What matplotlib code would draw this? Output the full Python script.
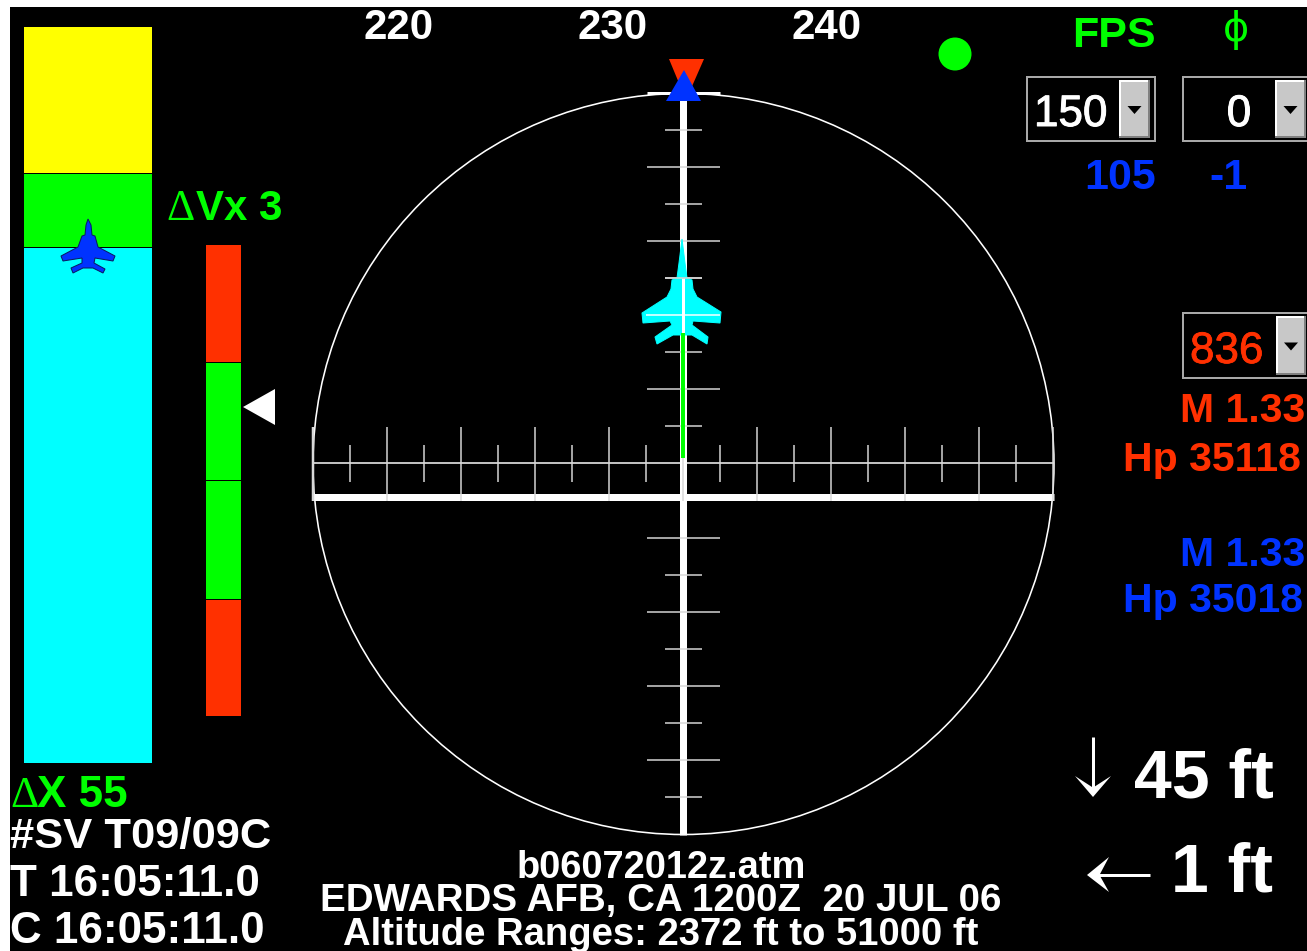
import matplotlib
matplotlib.use('Agg')
from matplotlib import pyplot as plt
from matplotlib import patheffects as pe
from matplotlib.patches import Circle, Polygon, Rectangle

W, H = 1307, 951
SANS = 'Liberation Sans'
SERIF = 'Liberation Serif'

GREEN = '#00ff00'
CYAN = '#00ffff'
YELLOW = '#ffff00'
RED = '#ff3000'
BLUE = '#0033ff'
WHITE = '#ffffff'
GRAY = '#d8d8d8'

# left energy bar, top to bottom edges in px
energy_edges = [26, 173, 247, 763]
energy_colors = [YELLOW, GREEN, CYAN]

# delta Vx bar
dvx_edges = [244, 362, 480, 599, 716]
dvx_colors = [RED, GREEN, GREEN, RED]
dvx_pointer = 407

heading_labels = [220, 230, 240]
heading_pos = [399, 613, 827]

# crosshair scales
h_major = [313, 387, 461, 535, 609, 683, 757, 831, 905, 979, 1053]
h_minor = [350, 424, 498, 572, 646, 720, 794, 868, 942, 1016]
v_long = [167, 241, 315, 389, 538, 612, 686, 760]
v_short = [130, 204, 278, 352, 426, 575, 649, 723, 797]

jet_cyan = [(682, 239), (685, 263), (687, 278), (692, 280), (693, 289), (697, 297),
            (721, 312), (720, 323), (693, 321), (692, 325), (708, 337), (707, 344),
            (692, 335), (673, 335), (657, 344), (655, 337), (672, 325), (670, 321),
            (643, 323), (642, 313), (667, 297), (671, 289), (672, 280), (677, 278),
            (679, 263)]
jet_blue = [(88, 219), (91, 225), (92, 235), (95, 236), (98, 247), (115, 256),
            (113, 261), (95, 258), (94, 263), (105, 269), (103, 273), (93, 268),
            (83, 268), (73, 273), (71, 268), (82, 263), (82, 258), (63, 261),
            (61, 256), (78, 247), (82, 236), (85, 235), (86, 225)]

fig = plt.figure(figsize=(W / 100, H / 100), dpi=100, facecolor='white')
ax = fig.add_axes([0, 0, 1, 1])
ax.set_xlim(0, W)
ax.set_ylim(H, 0)
ax.axis('off')


def px(n):
    return n * 0.72


def rect(x0, y0, x1, y1, color, z=1, **kw):
    ax.add_patch(Rectangle((x0, y0), x1 - x0, y1 - y0, facecolor=color, edgecolor='none', zorder=z, **kw))


def label(x, y, s, color=WHITE, size=42, weight='bold', ha='left', family=SANS, z=10, fat=0):
    t = ax.text(x, y, s, color=color, fontsize=px(size), fontweight=weight, ha=ha, va='baseline',
                family=family, zorder=z)
    if fat:
        t.set_path_effects([pe.withStroke(linewidth=px(fat), foreground=color)])


def line(xs, ys, color=WHITE, w=1.0, z=3):
    ax.plot(xs, ys, color=color, lw=px(w), zorder=z, solid_capstyle='butt')


def combo(x0, y0, x1, y1, bx0, bx1):
    rect(x0, y0, x1, y1, '#a8a8a8', z=2)
    rect(x0 + 2, y0 + 2, x1 - 2, y1 - 2, 'black', z=2)
    rect(bx0, y0 + 4, bx1, y1 - 4, '#808080', z=3)
    rect(bx0, y0 + 4, bx1 - 2, y1 - 6, WHITE, z=3)
    rect(bx0 + 2, y0 + 6, bx1 - 2, y1 - 6, '#c8c8c8', z=3)
    cx = (bx0 + bx1) / 2
    cy = (y0 + y1) / 2
    ax.add_patch(Polygon([(cx - 7, cy - 3), (cx + 7, cy - 3), (cx, cy + 5)], facecolor='black', edgecolor='none', zorder=4))


# background
rect(10, 7, W, H, 'black', z=0)

# energy bar
for i, c in enumerate(energy_colors):
    ax.bar(88, energy_edges[i + 1] - energy_edges[i] - 1, width=128, bottom=energy_edges[i] + 1, color=c, zorder=1)
ax.add_patch(Polygon(jet_blue, facecolor=BLUE, edgecolor='#0a1a60', lw=px(1), zorder=5))

# dVx bar
for i, c in enumerate(dvx_colors):
    ax.bar(223.5, dvx_edges[i + 1] - dvx_edges[i] - 1, width=35, bottom=dvx_edges[i] + 1, color=c, zorder=1)
ax.add_patch(Polygon([(243, dvx_pointer), (275, dvx_pointer - 18), (275, dvx_pointer + 18)],
                     facecolor=WHITE, edgecolor='none', zorder=3))

# crosshair
ax.add_patch(Circle((683.5, 464), 370.5, facecolor='none', edgecolor=WHITE, lw=px(1.6), zorder=2))
line([313, 1054], [463, 463], WHITE, 1.5)
line([313, 1054], [496.5, 496.5], WHITE, 7)
line([682.5, 682.5], [100, 835], WHITE, 7)
line([647, 720], [93, 93], WHITE, 3)
for x in h_major:
    line([x, x], [427, 501], GRAY, 1.5 if x != 313 else 2.5)
for x in h_minor:
    line([x, x], [445, 482], GRAY, 1.5)
for y in v_long:
    line([647, 720], [y, y], GRAY, 1.5)
for y in v_short:
    line([665, 702], [y, y], GRAY, 1.5)

# jet and deviation line
ax.add_patch(Polygon(jet_cyan, facecolor=CYAN, edgecolor=CYAN, lw=px(1), zorder=4))
line([683, 683], [278, 333], WHITE, 3, z=5)
line([646, 720], [315, 315], WHITE, 1.5, z=5)
line([665, 702], [278, 278], GRAY, 1.5, z=5)
line([683, 683], [333, 458], GREEN, 4, z=5)

# target markers
ax.add_patch(Polygon([(669, 59), (704, 59), (686, 100)], facecolor=RED, edgecolor='none', zorder=6))
ax.add_patch(Polygon([(684, 70), (666, 101), (701, 101)], facecolor=BLUE, edgecolor='none', zorder=7))

# heading labels
for v, x in zip(heading_labels, heading_pos):
    label(x, 39, str(v), ha='center', size=42)

ax.add_patch(Circle((955, 54), 16.5, facecolor=GREEN, edgecolor='none', zorder=3))

# top right controls
label(1072, 47, 'FPS', GREEN, 43)
label(1236, 41, '\u03d5', GREEN, 40, weight='normal', ha='center', family='DejaVu Sans')
combo(1026, 76, 1156, 142, 1119, 1150)
combo(1182, 76, 1320, 142, 1275, 1306)
combo(1182, 312, 1320, 379, 1276, 1306)
label(1034, 126, '150', WHITE, 44, weight='normal', fat=1)
label(1239, 126, '0', WHITE, 44, weight='normal', ha='center', fat=1)
label(1084, 189, '105', BLUE, 43)
label(1209, 189, '-1', BLUE, 43)
label(1190, 363, '836', RED, 44, weight='normal', fat=0.8)

label(1180, 422, 'M 1.33', RED, 41)
label(1123, 471, 'Hp 35118', RED, 41)
label(1180, 566, 'M 1.33', BLUE, 41)
label(1123, 612, 'Hp 35018', BLUE, 41)

# delta labels
label(166, 220, '\u0394', GREEN, 44, weight='normal', family=SERIF)
label(196, 220, 'Vx 3', GREEN, 42)
label(10, 807, '\u0394', GREEN, 44, weight='normal', family=SERIF)
label(37, 807, 'X 55', GREEN, 44)

# bottom left
label(10, 848, '#SV T09/09C', WHITE, 43.5)
label(10, 896, 'T 16:05:11.0', WHITE, 44)
label(10, 943, 'C 16:05:11.0', WHITE, 44)

# bottom centre
label(661, 878, 'b06072012z.atm', WHITE, 38, ha='center')
label(661, 911, 'EDWARDS AFB, CA 1200Z  20 JUL 06', WHITE, 38.5, ha='center')
label(661, 945, 'Altitude Ranges: 2372 ft to 51000 ft', WHITE, 38.3, ha='center')

# offsets
label(1134, 797, '45 ft', WHITE, 68)
label(1171, 891, '1 ft', WHITE, 68)
line([1093, 1093], [737, 790], WHITE, 3)
ax.add_patch(Polygon([(1075, 776), (1093, 797), (1111, 776), (1094, 787), (1092, 787)], facecolor=WHITE, edgecolor='none', zorder=3))
line([1095, 1150], [875, 875], WHITE, 3)
ax.add_patch(Polygon([(1087, 875), (1109, 857), (1100, 874), (1100, 876), (1109, 892)], facecolor=WHITE, edgecolor='none', zorder=3))

fig.savefig('out.png', dpi=100, facecolor='white')
